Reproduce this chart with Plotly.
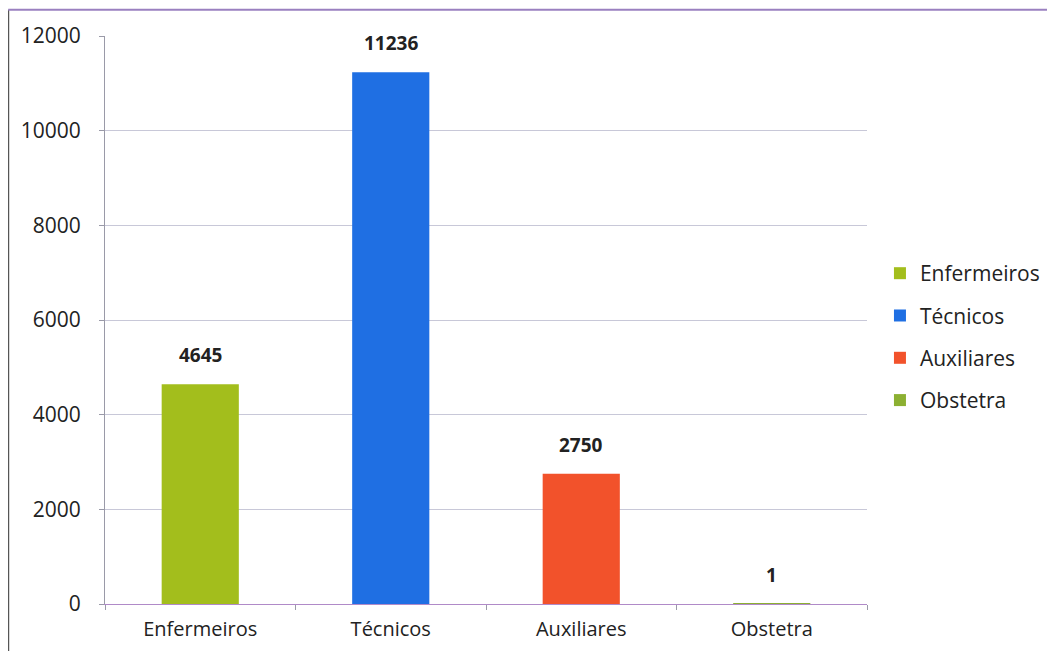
import plotly.graph_objects as go

categories = ["Enfermeiros", "Técnicos", "Auxiliares", "Obstetra"]
values = [4645, 11236, 2750, 1]
series_names = ["Enfermeiros", "Técnicos", "Auxiliares", "Obstetra"]
colors = ["#A3BE1C", "#1F6FE3", "#F2522B", "#8CB032"]

FONT = "Open Sans"

fig = go.Figure()
for i, name in enumerate(series_names):
    y = [values[i] if j == i else None for j in range(len(categories))]
    fig.add_trace(go.Bar(
        x=categories, y=y, name=name, marker_color=colors[i],
        marker_line_width=0, width=0.405, legendgroup=name,
    ))

for cat, v in zip(categories, values):
    fig.add_annotation(x=cat, y=v, text=str(v), showarrow=False, yanchor="bottom",
                       yshift=14, font=dict(family=FONT, size=19, color="#222222", weight="bold"))

fig.update_layout(
    width=1039, height=643,
    barmode="overlay",
    paper_bgcolor="white", plot_bgcolor="white",
    margin=dict(l=97, r=180, t=28, b=47, autoexpand=False),
    font=dict(family=FONT, size=20, color="#222222"),
    legend=dict(x=1.017, y=0.47, yanchor="middle", xanchor="left",
                tracegroupgap=12, font=dict(size=21), itemwidth=30),
    showlegend=True,
)
fig.update_yaxes(range=[0, 12000], dtick=2000, tickformat="d", showgrid=True, gridcolor="#c8c8d8",
                 gridwidth=1, showline=True, linecolor="#9a9aa8", ticks="outside",
                 ticklen=5, tickcolor="#9a9aa8", zeroline=False, tickfont=dict(size=21),
                 ticklabelstandoff=14)
fig.update_xaxes(showline=True, linecolor="#b08ac8", ticks="outside", tickson="boundaries",
                 ticklen=5, tickcolor="#9a9aa8", tickfont=dict(size=20), ticklabelstandoff=7)
fig.add_shape(type="line", xref="paper", yref="paper", x0=-0.127, x1=-0.127, y0=-0.1, y1=1.046,
              line=dict(color="#555555", width=2))
fig.add_shape(type="line", xref="paper", yref="paper", x0=-0.127, x1=1.25, y0=1.046, y1=1.046,
              line=dict(color="#9a80c0", width=2))

fig.write_html("out.html")
